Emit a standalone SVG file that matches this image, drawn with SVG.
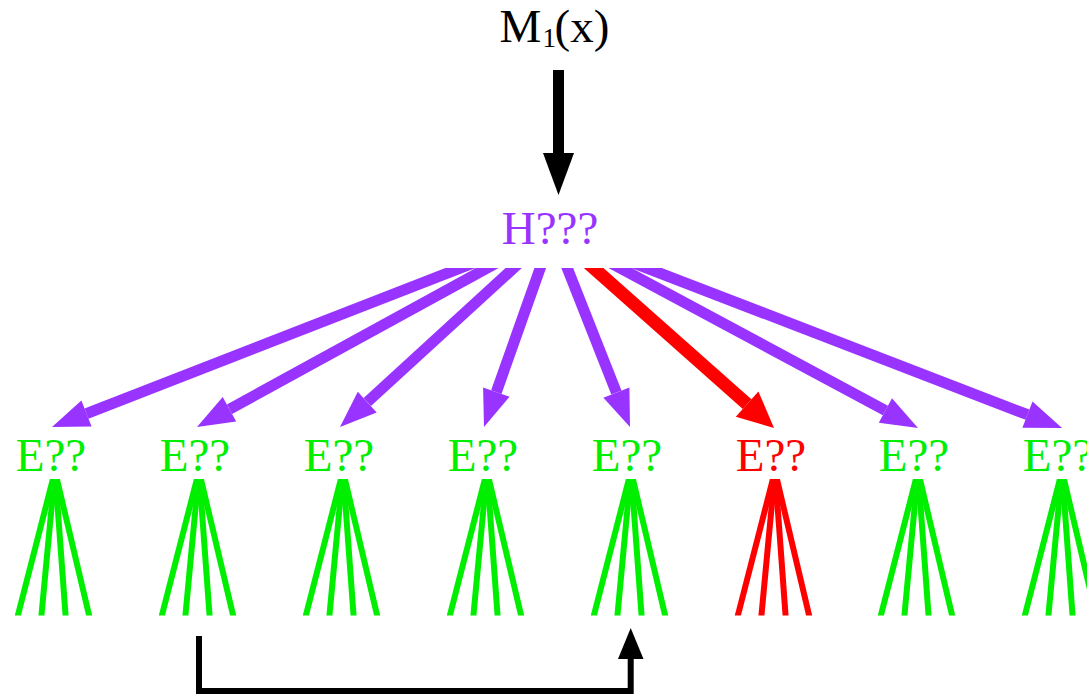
<svg xmlns="http://www.w3.org/2000/svg" width="1087" height="695" viewBox="0 0 1087 695">
  <style>
    text { font-family: "Liberation Serif", "Times New Roman", serif; font-size: 47px; }
    .title { fill: #000000; }
    .hub { fill: #9933FF; }
    .leaf { fill: #00EE00; }
    .leaf-hot { fill: #FF0000; }
    .shaft { stroke: #9933FF; stroke-width: 11; fill: none; }
    .shaft-hot { stroke: #FF0000; stroke-width: 13; fill: none; }
    .head { fill: #9933FF; }
    .head-hot { fill: #FF0000; }
    .fan { stroke: #00EE00; stroke-width: 6; fill: none; }
    .fan-hot { stroke: #FF0000; stroke-width: 6; fill: none; }
  </style>
  <defs>
    <clipPath id="below-hub"><rect x="0" y="268" width="1087" height="200"/></clipPath>
    <clipPath id="fan-band"><rect x="0" y="479" width="1087" height="136.5"/></clipPath>
    <!-- four-way fan under a leaf label, apex at origin -->
    <g id="fan-shape">
      <line x1="0" y1="-8" x2="-38.3" y2="141"/>
      <line x1="0" y1="-8" x2="-14" y2="141"/>
      <line x1="0" y1="-8" x2="10.9" y2="141"/>
      <line x1="0" y1="-8" x2="35.2" y2="141"/>
    </g>
  </defs>
  <rect width="1087" height="695" fill="#FFFFFF"/>

  <g id="node-input">
    <text class="title" x="499.5" y="42">M</text>
    <text class="title" x="542.5" y="47" style="font-size:27px">1</text>
    <text class="title" x="554.5" y="42">(x)</text>
  </g>

  <g id="node-hub">
    <text class="hub" x="550" y="244" text-anchor="middle">H???</text>
  </g>

  <g id="node-e1"><text class="leaf" x="51" y="471" text-anchor="middle">E??</text></g>
  <g id="node-e2"><text class="leaf" x="195" y="471" text-anchor="middle">E??</text></g>
  <g id="node-e3"><text class="leaf" x="339" y="471" text-anchor="middle">E??</text></g>
  <g id="node-e4"><text class="leaf" x="483" y="471" text-anchor="middle">E??</text></g>
  <g id="node-e5"><text class="leaf" x="627" y="471" text-anchor="middle">E??</text></g>
  <g id="node-e6"><text class="leaf-hot" x="771" y="471" text-anchor="middle">E??</text></g>
  <g id="node-e7"><text class="leaf" x="914" y="471" text-anchor="middle">E??</text></g>
  <g id="node-e8"><text class="leaf" x="1058" y="471" text-anchor="middle">E??</text></g>

  <g id="connectors">
    <!-- input to hub -->
    <line x1="558.5" y1="70" x2="558.5" y2="155" stroke="#000000" stroke-width="11"/>
    <polygon points="543,153 574,153 558.5,195" fill="#000000"/>

    <!-- hub to leaves: shafts radiate from the hub centre, cut below the label -->
    <g clip-path="url(#below-hub)">
      <line class="shaft" x1="553" y1="232" x2="86.5" y2="413.6"/>
      <line class="shaft" x1="553" y1="232" x2="229.5" y2="409.2"/>
      <line class="shaft" x1="553" y1="232" x2="367.3" y2="402"/>
      <line class="shaft" x1="553" y1="232" x2="496.3" y2="392.1"/>
      <line class="shaft" x1="553" y1="232" x2="616.4" y2="392.6"/>
      <line class="shaft-hot" x1="553" y1="232" x2="747.1" y2="404.1"/>
      <line class="shaft" x1="553" y1="232" x2="885.4" y2="410.5"/>
      <line class="shaft" x1="553" y1="232" x2="1027.5" y2="414.7"/>
    </g>
    <polygon class="head" points="52,427 91.6,426.6 81.4,400.5"/>
    <polygon class="head" points="197,427 236.2,421.5 222.7,397"/>
    <polygon class="head" points="340,427 376.7,412.4 357.8,391.7"/>
    <polygon class="head" points="484,427 509.5,396.8 483.1,387.5"/>
    <polygon class="head" points="630,427 629.4,387.5 603.4,397.7"/>
    <polygon class="head-hot" points="774,428 758.4,391.4 735.8,416.8"/>
    <polygon class="head" points="918,428 892,398.2 878.8,422.8"/>
    <polygon class="head" points="1062,428 1032.5,401.6 1022.4,427.8"/>

    <!-- fans under each leaf -->
    <g clip-path="url(#fan-band)">
      <use href="#fan-shape" class="fan" transform="translate(55,479)"/>
      <use href="#fan-shape" class="fan" transform="translate(199,479)"/>
      <use href="#fan-shape" class="fan" transform="translate(343,479)"/>
      <use href="#fan-shape" class="fan" transform="translate(487,479)"/>
      <use href="#fan-shape" class="fan" transform="translate(631,479)"/>
      <use href="#fan-shape" class="fan-hot" transform="translate(775,479)"/>
      <use href="#fan-shape" class="fan" transform="translate(918,479)"/>
      <use href="#fan-shape" class="fan" transform="translate(1062,479)"/>
    </g>

    <!-- feedback from second fan to fifth fan -->
    <path d="M199,636 V691 H630.7 V657" fill="none" stroke="#000000" stroke-width="6"/>
    <polygon points="618,659 643.5,659 630.7,628" fill="#000000"/>
  </g>
</svg>
